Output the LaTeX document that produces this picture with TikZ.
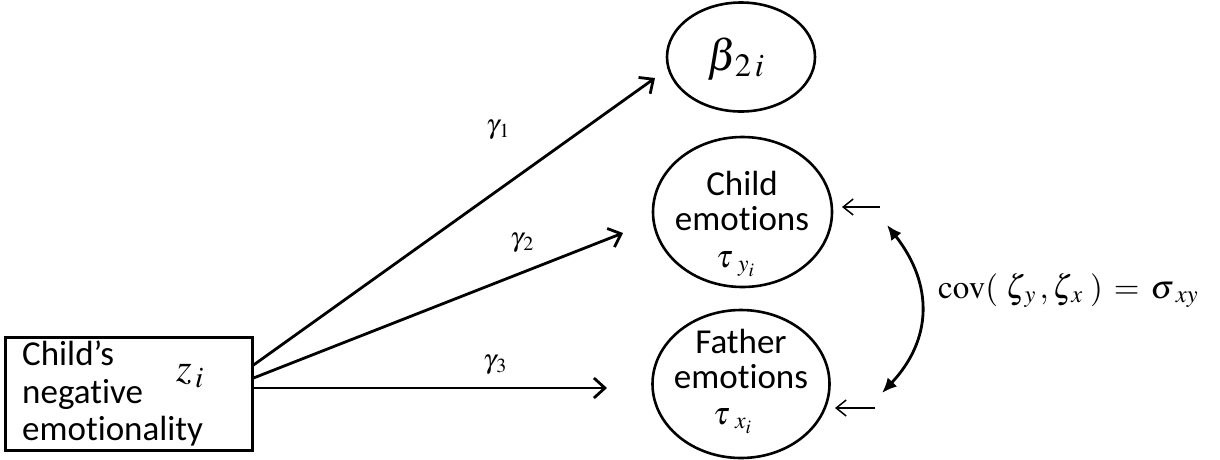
\documentclass[tikz,border=0pt]{standalone}
\usepackage{mathptmx}
\usepackage[no-math]{fontspec}
\setmainfont{Carlito}[Ligatures=NoCommon]
\usetikzlibrary{arrows.meta,shapes.geometric,calc}
\tikzset{
  latent/.style={draw, ellipse, line width=2.6pt, inner sep=0pt},
  boxtxt/.style={inner sep=0pt, font=\fontsize{35}{37.5}\selectfont},
  mainarrow/.style={line width=2.8pt, -{Straight Barb[length=11pt,width=20pt,line width=2.8pt]}},
  smallarrow/.style={line width=1.5pt, -{Straight Barb[length=10pt,width=16pt,line width=1.5pt]}},
  covarrow/.style={line width=2.8pt, {Latex[length=15pt,width=13pt]}-{Latex[length=15pt,width=13pt]}},
  glabel/.style={inner sep=0pt, font=\fontsize{27}{27}\selectfont}
}
\begin{document}
\begin{tikzpicture}[x=1pt,y=-1pt]
\useasboundingbox (0,0) rectangle (1220,459);
% box
\node[draw, line width=3pt, minimum width=247pt, minimum height=113pt, inner sep=0pt] (box) at (128.5,393.5) {};
\node[boxtxt, anchor=base west] (bt1) at (22,365) {Child’s};
\node[boxtxt, anchor=base west] (bt2) at (22,403) {negative};
\node[boxtxt, anchor=base west] (bt3) at (22,440) {emotionality};
\node[inner sep=0pt, anchor=base west, font=\fontsize{40}{40}\selectfont] (zi) at (176,381) {$z_{\,i}$};
% latent ellipses
\node[latent, minimum width=148pt, minimum height=109pt] (beta) at (741,57) {};
\node[inner sep=0pt, anchor=base west, font=\fontsize{44}{44}\selectfont] (betatext) at (707,70) {$\beta_{\,2\,i}$};
\node[latent, minimum width=179pt, minimum height=150pt] (child) at (742.5,212) {};
\node[boxtxt, anchor=base] (childt1) at (742,195) {Child};
\node[boxtxt, anchor=base] (childt2) at (742,230) {emotions};
\node[inner sep=0pt, anchor=base west, font=\fontsize{32}{32}\selectfont] (childtau) at (716,267) {$\tau_{\;\,y_{i}}$};
\node[latent, minimum width=177pt, minimum height=148pt] (father) at (741,384) {};
\node[boxtxt, anchor=base] (fathert1) at (741,353) {Father};
\node[boxtxt, anchor=base] (fathert2) at (741,388) {emotions};
\node[inner sep=0pt, anchor=base west, font=\fontsize{32}{32}\selectfont] (fathertau) at (713,424) {$\tau_{\;\,x_{i}}$};
% path arrows
\coordinate (t1) at (655,78);
\coordinate (t2) at (623,233);
\coordinate (t3) at (607,388);
\draw[mainarrow] ($(box.east)+(0,-28.5)$) -- (t1);
\draw[mainarrow] ($(box.east)+(0,-15.5)$) -- (t2);
\draw[mainarrow] ($(box.east)+(0,-5.5)$) -- (t3);
\node[glabel] (g1) at (498,130) {$\gamma_{\,1}$};
\node[glabel] (g2) at (522,243) {$\gamma_{\,2}$};
\node[glabel] (g3) at (495,365) {$\gamma_{\,3}$};
% residual arrows
\coordinate (r1s) at (880,207);
\coordinate (r1e) at (842,207);
\coordinate (r2s) at (875,408);
\coordinate (r2e) at (835,408);
\draw[smallarrow] (r1s) -- (r1e);
\draw[smallarrow] (r2s) -- (r2e);
% covariance
\coordinate (cu) at (887,225);
\coordinate (cl) at (882,393);
\draw[covarrow] (cu) .. controls (934,285) and (932,340) .. (cl);
\node[inner sep=0pt, anchor=base west, font=\fontsize{33}{33}\selectfont] (cov) at (938,298) {$\mathrm{cov}(\;\zeta_{\,y}\,,\zeta_{\,x}\;) \,=\, \sigma_{\;xy}$};
\end{tikzpicture}
\end{document}
